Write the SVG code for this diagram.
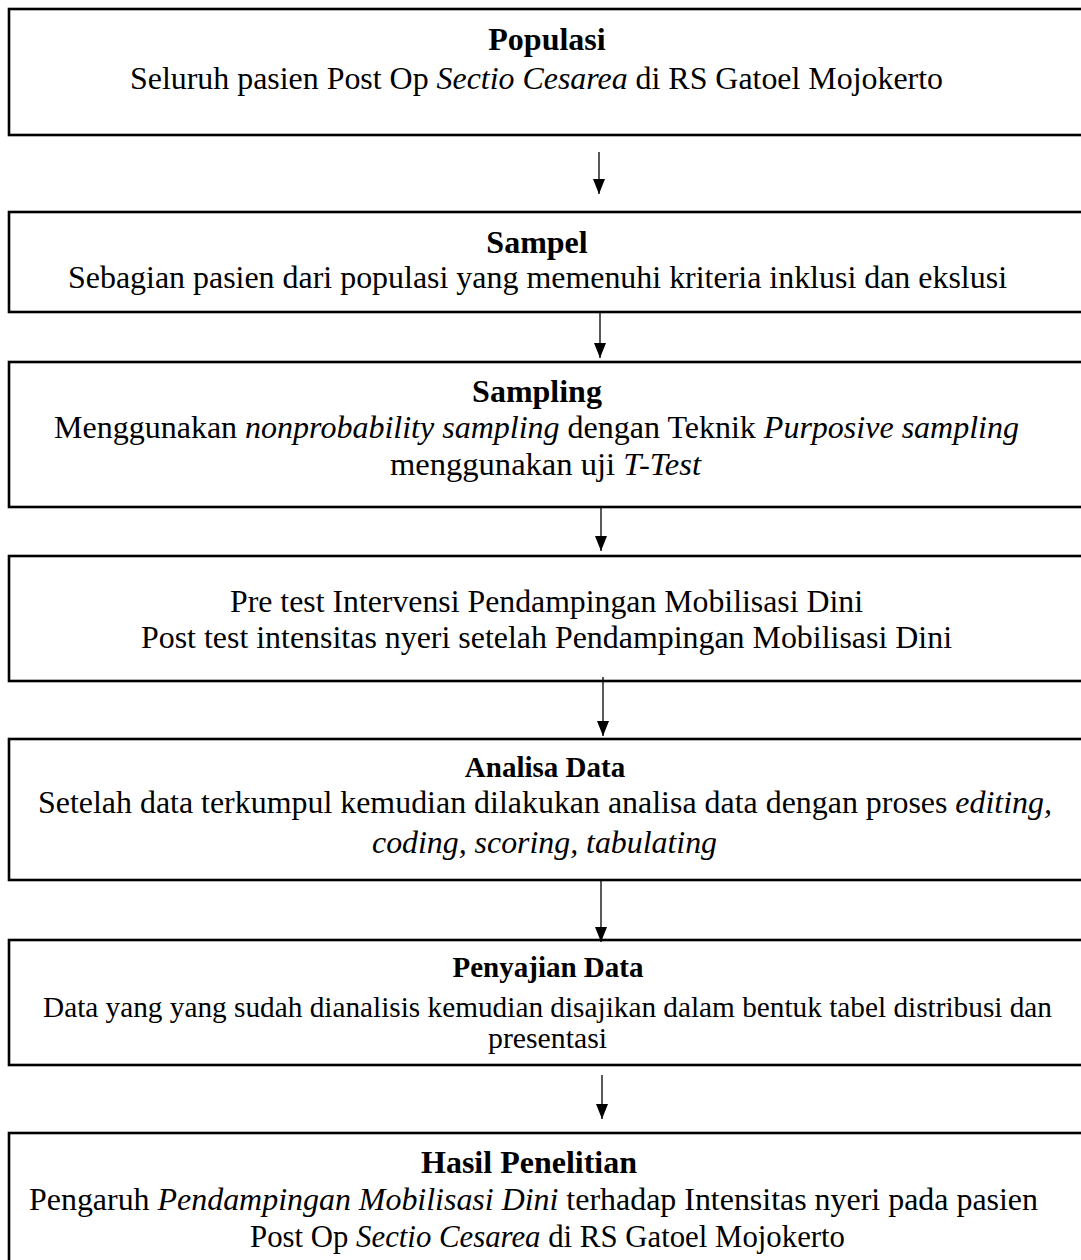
<svg xmlns="http://www.w3.org/2000/svg" width="1081" height="1260" viewBox="0 0 1081 1260">
<style>
.box{fill:#fff;stroke:#000;stroke-width:2.6}
.t{font-family:"Liberation Serif","Times New Roman",serif;font-size:32px;fill:#000}
.b{font-weight:bold}
.i{font-style:italic}
.c{text-anchor:middle}
.con{stroke:#000;stroke-width:1.3;fill:none}
</style>
<defs>
<marker id="ah" markerWidth="15" markerHeight="12" refX="15" refY="6" orient="auto" markerUnits="userSpaceOnUse" viewBox="0 0 15 12">
<path d="M0,0 L15,6 L0,12 Z" fill="#000"/>
</marker>
</defs>
<rect width="1081" height="1260" fill="#fff"/>
<g id="node-populasi">
<rect class="box" x="9" y="9" width="1090" height="126"/>
<text class="t b c" x="547" y="50">Populasi</text>
<text class="t" x="130" y="89" textLength="813" lengthAdjust="spacingAndGlyphs">Seluruh pasien Post Op <tspan class="i">Sectio Cesarea</tspan> di RS Gatoel Mojokerto</text>
</g>
<g id="node-sampel">
<rect class="box" x="9" y="212" width="1090" height="100"/>
<text class="t b c" x="537" y="253">Sampel</text>
<text class="t" x="68" y="288" textLength="939" lengthAdjust="spacingAndGlyphs">Sebagian pasien dari populasi yang memenuhi kriteria inklusi dan ekslusi</text>
</g>
<g id="node-sampling">
<rect class="box" x="9" y="362" width="1090" height="145"/>
<text class="t b c" x="537" y="402">Sampling</text>
<text class="t" x="54" y="438" textLength="965" lengthAdjust="spacingAndGlyphs">Menggunakan <tspan class="i">nonprobability sampling</tspan> dengan Teknik <tspan class="i">Purposive sampling</tspan></text>
<text class="t" x="390" y="475" textLength="311" lengthAdjust="spacingAndGlyphs">menggunakan uji <tspan class="i">T-Test</tspan></text>
</g>
<g id="node-test">
<rect class="box" x="9" y="556" width="1090" height="125"/>
<text class="t" x="230" y="612" textLength="633" lengthAdjust="spacingAndGlyphs">Pre test Intervensi Pendampingan Mobilisasi Dini</text>
<text class="t" x="141" y="648" textLength="811" lengthAdjust="spacingAndGlyphs">Post test intensitas nyeri setelah Pendampingan Mobilisasi Dini</text>
</g>
<g id="node-analisa">
<rect class="box" x="9" y="739" width="1090" height="141"/>
<text class="t b c" x="545" y="777" style="font-size:29px">Analisa Data</text>
<text class="t" x="38" y="813" textLength="1014" lengthAdjust="spacingAndGlyphs">Setelah data terkumpul kemudian dilakukan analisa data dengan proses <tspan class="i">editing,</tspan></text>
<text class="t i" x="372" y="853" textLength="345" lengthAdjust="spacingAndGlyphs">coding, scoring, tabulating</text>
</g>
<g id="node-penyajian">
<rect class="box" x="9" y="940" width="1090" height="125"/>
<text class="t b c" x="548" y="977" style="font-size:29px">Penyajian Data</text>
<text class="t" x="43" y="1017" textLength="1009" lengthAdjust="spacingAndGlyphs" style="font-size:29px">Data yang yang sudah dianalisis kemudian disajikan dalam bentuk tabel distribusi dan</text>
<text class="t" x="488" y="1048" textLength="119" lengthAdjust="spacingAndGlyphs" style="font-size:29px">presentasi</text>
</g>
<g id="node-hasil">
<rect class="box" x="9" y="1133" width="1090" height="160"/>
<text class="t b c" x="529" y="1173">Hasil Penelitian</text>
<text class="t" x="29" y="1210" textLength="1009" lengthAdjust="spacingAndGlyphs">Pengaruh <tspan class="i">Pendampingan Mobilisasi Dini</tspan> terhadap Intensitas nyeri pada pasien</text>
<text class="t" x="250" y="1247" textLength="595" lengthAdjust="spacingAndGlyphs">Post Op <tspan class="i">Sectio Cesarea</tspan> di RS Gatoel Mojokerto</text>
</g>
<g id="connectors">
<line class="con" x1="599" y1="152" x2="599" y2="194" marker-end="url(#ah)"/>
<line class="con" x1="600" y1="313" x2="600" y2="358" marker-end="url(#ah)"/>
<line class="con" x1="601" y1="508" x2="601" y2="551" marker-end="url(#ah)"/>
<line class="con" x1="603" y1="677" x2="603" y2="736" marker-end="url(#ah)"/>
<line class="con" x1="601" y1="880" x2="601" y2="942" marker-end="url(#ah)"/>
<line class="con" x1="602" y1="1075" x2="602" y2="1119" marker-end="url(#ah)"/>
</g>
</svg>
